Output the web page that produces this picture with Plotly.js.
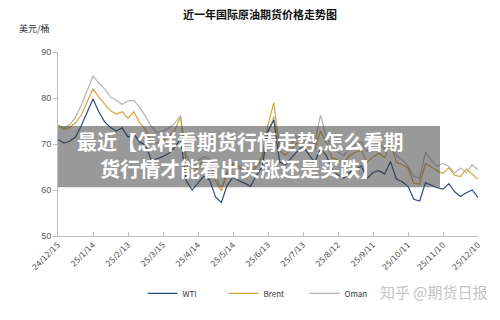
<!DOCTYPE html>
<html>
<head>
<meta charset="utf-8">
<script src="https://cdn.plot.ly/plotly-3.0.1.min.js"></script>
<style>html,body{margin:0;padding:0;background:#fff;}#chart{width:500px;height:320px;}</style>
</head>
<body>
<div id="chart"></div>
<script>
const dates = ["2024-12-15","2024-12-20","2024-12-25","2024-12-30","2025-01-04","2025-01-09","2025-01-14","2025-01-19","2025-01-24","2025-01-29",
"2025-02-03","2025-02-08","2025-02-13","2025-02-18","2025-02-23","2025-02-28","2025-03-05","2025-03-10","2025-03-15","2025-03-20",
"2025-03-25","2025-03-30","2025-04-04","2025-04-09","2025-04-14","2025-04-19","2025-04-24","2025-04-29","2025-05-04","2025-05-09",
"2025-05-14","2025-05-19","2025-05-24","2025-05-29","2025-06-03","2025-06-08","2025-06-13","2025-06-18","2025-06-23","2025-06-28",
"2025-07-03","2025-07-08","2025-07-13","2025-07-18","2025-07-23","2025-07-28","2025-08-02","2025-08-07","2025-08-12","2025-08-17",
"2025-08-22","2025-08-27","2025-09-01","2025-09-06","2025-09-11","2025-09-16","2025-09-21","2025-09-26","2025-10-01","2025-10-06",
"2025-10-11","2025-10-16","2025-10-21","2025-10-26","2025-10-31","2025-11-05","2025-11-10","2025-11-15","2025-11-20","2025-11-25",
"2025-11-30","2025-12-05","2025-12-10"];

const wti = [71.0,70.2,70.6,71.5,74.0,76.8,79.8,77.0,74.8,73.6,
72.8,73.5,71.5,72.2,70.4,69.8,66.5,66.8,67.3,68.0,
69.2,71.2,62.0,60.0,61.5,63.0,62.2,58.5,57.3,61.0,
62.8,62.0,61.5,60.8,63.2,65.0,72.8,75.2,66.0,65.5,
67.0,68.4,69.5,67.8,66.0,69.0,67.5,64.5,63.2,62.6,
63.8,64.5,65.2,62.5,63.8,64.2,63.5,66.2,62.4,61.8,
60.8,58.0,57.6,61.6,61.0,60.5,60.2,61.4,59.6,58.6,
59.4,60.0,58.4];

const brent = [74.0,73.2,73.6,74.6,76.3,79.2,82.0,80.2,78.6,77.2,
76.5,77.0,75.6,77.0,74.6,73.2,70.5,70.2,70.8,71.5,
73.0,75.8,65.5,63.5,65.0,66.5,66.0,62.0,59.8,63.5,
65.8,65.2,64.5,63.8,65.5,67.2,74.2,79.0,68.5,67.5,
69.0,70.2,71.0,69.5,68.8,72.8,70.2,67.0,66.5,66.0,
67.5,68.2,68.6,66.0,67.2,68.0,67.0,70.2,66.0,65.5,
64.8,61.5,61.3,65.8,65.0,64.2,63.6,64.8,63.2,62.9,
64.6,63.5,62.3];

const oman = [74.2,73.5,74.2,75.8,78.5,81.5,84.8,83.2,82.0,80.2,
79.5,78.6,79.4,79.5,78.0,76.0,73.8,72.5,72.8,73.5,
74.5,76.2,67.5,65.0,66.5,67.2,66.8,62.8,60.5,64.0,
65.5,64.8,64.2,63.2,65.0,66.5,72.5,76.0,69.5,68.5,
70.0,71.5,71.8,70.6,70.0,76.3,71.5,69.0,68.2,67.5,
69.0,70.0,70.5,68.4,69.6,70.2,68.8,71.0,67.5,66.6,
65.2,63.0,62.5,68.2,66.5,65.1,65.8,65.1,63.7,64.8,
63.7,65.5,64.4];

const seriesNames = ["WTI","Brent","Oman"];
const seriesColors = ["#2f4a7e","#d4a53c","#b4b4b4"];
const yTicks = [50,60,70,80,90];
const overlayLines = ["最近【怎样看期货行情走势,怎么看期", "货行情才能看出买涨还是买跌】"];

const traces = [oman, brent, wti].map((v, i) => {
  const idx = 2 - i;
  return {
    x: dates, y: v, type: "scatter", mode: "lines",
    name: seriesNames[idx],
    line: {color: seriesColors[idx], width: 1.2},
    legendrank: idx + 1
  };
});

const L = 58, R = 478, T = 52, B = 241;
const pw = R - L, ph = B - T;
const px = x => (x - L) / pw;
const py = y => (B - y) / ph;

const layout = {
  width: 500, height: 320,
  margin: {l: L, r: 500 - R, t: T, b: 320 - B, pad: 0},
  paper_bgcolor: "#ffffff", plot_bgcolor: "#ffffff",
  font: {family: "'Noto Sans CJK SC', 'Noto Sans', sans-serif", color: "#404040"},
  title: {text: "<b>近一年国际原油期货价格走势图</b>", x: 260/500, xanchor: "center", y: 1 - 15/320, yanchor: "middle",
          font: {size: 11, color: "#111", family: "'Noto Sans CJK SC', sans-serif"}},
  showlegend: true,
  legend: {orientation: "h", x: px(264), xanchor: "center", y: py(300), yanchor: "middle",
           font: {size: 8, color: "#333"}, entrywidth: 36, entrywidthmode: "pixels", traceorder: "normal",
           bgcolor: "rgba(0,0,0,0)", itemwidth: 30},
  xaxis: {
    type: "date", range: ["2024-12-15", "2025-12-10"],
    tick0: "2024-12-15", dtick: 30 * 86400000, tickformat: "%y/%-m/%-d",
    tickangle: -45, tickfont: {size: 8, color: "#555", family: "'DejaVu Sans', sans-serif"},
    showline: true, linecolor: "#bfbfbf", linewidth: 1,
    ticks: "inside", ticklen: 4, tickcolor: "#bfbfbf",
    showgrid: false, zeroline: false
  },
  yaxis: {
    range: [50, 90], tickvals: yTicks,
    tickfont: {size: 9, color: "#555", family: "'Liberation Sans', sans-serif"},
    showline: true, linecolor: "#bfbfbf", linewidth: 1,
    ticks: "outside", ticklen: 4, tickcolor: "#bfbfbf",
    showgrid: false, zeroline: false
  },
  shapes: [{
    type: "rect", xref: "paper", yref: "paper", layer: "above",
    x0: px(58), x1: px(440), y0: py(191), y1: py(128),
    fillcolor: "rgba(60,60,60,0.52)", line: {width: 0}
  }],
  annotations: [
    {text: "美元/桶", xref: "paper", yref: "paper", x: px(17), y: py(28), xanchor: "left", yanchor: "middle",
     showarrow: false, font: {size: 9, color: "#333"}},
    {text: "<b>" + overlayLines[0] + "</b>", xref: "paper", yref: "paper",
     x: px(240), y: py(144), xanchor: "center", yanchor: "middle", showarrow: false,
     font: {size: 20, color: "#ffffff"}},
    {text: "<b>" + overlayLines[1] + "</b>", xref: "paper", yref: "paper",
     x: px(240), y: py(171.5), xanchor: "center", yanchor: "middle", showarrow: false,
     font: {size: 20, color: "#ffffff"}},
    {text: "知乎 @期货日报", xref: "paper", yref: "paper", x: px(434), y: py(298),
     xanchor: "center", yanchor: "middle", showarrow: false, font: {size: 15, color: "#c4c4c4"}}
  ]
};

Plotly.newPlot("chart", traces, layout, {displayModeBar: false, staticPlot: true});
</script>
</body>
</html>
